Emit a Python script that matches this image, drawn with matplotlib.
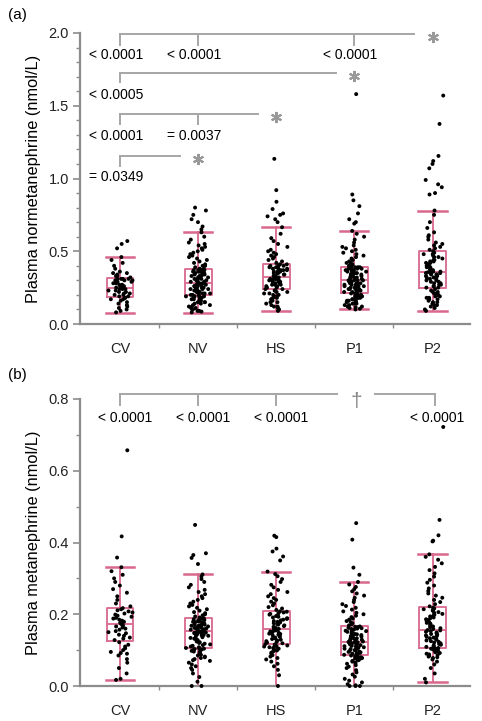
import matplotlib
matplotlib.use("Agg")
import matplotlib.pyplot as plt
import numpy as np

plt.rcParams['font.family'] = ['Liberation Sans', 'DejaVu Sans']

groups = ['CV', 'NV', 'HS', 'P1', 'P2']

# (a) plasma normetanephrine, nmol/L
nmn_cv = [0.08, 0.09, 0.10, 0.11, 0.12, 0.13, 0.14, 0.15, 0.16, 0.17, 0.17, 0.18, 0.18, 0.19, 0.19,
          0.20, 0.20, 0.21, 0.21, 0.22, 0.22, 0.23, 0.23, 0.24, 0.24, 0.24, 0.25, 0.25, 0.25, 0.25,
          0.26, 0.26, 0.27, 0.27, 0.28, 0.28, 0.29, 0.29, 0.30, 0.30, 0.30, 0.31, 0.31, 0.31, 0.31,
          0.32, 0.33, 0.33, 0.34, 0.35, 0.35, 0.36, 0.38, 0.40, 0.42, 0.44, 0.46, 0.52, 0.55, 0.57]
nmn_nv = [0.08, 0.085, 0.09, 0.09, 0.10, 0.10, 0.11, 0.11, 0.12, 0.12, 0.13, 0.13, 0.14, 0.14, 0.15,
          0.15, 0.15, 0.16, 0.16, 0.16, 0.17, 0.17, 0.17, 0.18, 0.18, 0.18, 0.19, 0.19, 0.19, 0.19,
          0.20, 0.20, 0.20, 0.21, 0.21, 0.21, 0.22, 0.22, 0.22, 0.22, 0.23, 0.23, 0.23, 0.24, 0.24,
          0.24, 0.24, 0.25, 0.25, 0.25, 0.25, 0.26, 0.26, 0.26, 0.26, 0.27, 0.27, 0.27, 0.28, 0.28,
          0.28, 0.29, 0.29, 0.29, 0.30, 0.30, 0.30, 0.31, 0.31, 0.31, 0.32, 0.32, 0.32, 0.33, 0.33,
          0.33, 0.34, 0.34, 0.34, 0.35, 0.35, 0.35, 0.36, 0.36, 0.36, 0.37, 0.37, 0.37, 0.37, 0.38,
          0.38, 0.39, 0.40, 0.40, 0.41, 0.42, 0.43, 0.44, 0.45, 0.46, 0.47, 0.48, 0.49, 0.50, 0.51,
          0.52, 0.53, 0.54, 0.55, 0.56, 0.58, 0.60, 0.63, 0.65, 0.67, 0.70, 0.72, 0.75, 0.78, 0.80]
nmn_hs = [0.09, 0.10, 0.11, 0.12, 0.12, 0.13, 0.14, 0.15, 0.15, 0.16, 0.17, 0.17, 0.18, 0.18, 0.19,
          0.19, 0.20, 0.20, 0.21, 0.21, 0.22, 0.22, 0.23, 0.23, 0.24,
          0.24, 0.25, 0.25, 0.26, 0.26, 0.27, 0.27, 0.27, 0.28, 0.28, 0.28, 0.29, 0.29, 0.29, 0.30,
          0.30, 0.30, 0.30, 0.31, 0.31, 0.31, 0.31, 0.32, 0.32, 0.32,
          0.33, 0.33, 0.33, 0.34, 0.34, 0.35, 0.35, 0.35, 0.36, 0.36, 0.36, 0.37, 0.37, 0.37, 0.38,
          0.38, 0.38, 0.39, 0.39, 0.39, 0.40, 0.40, 0.40, 0.41, 0.41,
          0.42, 0.43, 0.44, 0.45, 0.46, 0.47, 0.48, 0.49, 0.50, 0.51, 0.53, 0.55, 0.57, 0.59, 0.62,
          0.665, 0.70, 0.72, 0.74, 0.75, 0.76, 0.79, 0.84, 0.92, 1.135]
nmn_p1 = [0.10, 0.105, 0.11, 0.115, 0.12, 0.12, 0.13, 0.13, 0.14, 0.14, 0.14, 0.15, 0.15, 0.16, 0.16,
          0.16, 0.17, 0.17, 0.17, 0.18, 0.18, 0.18, 0.19, 0.19, 0.19, 0.20, 0.20, 0.20, 0.21, 0.21,
          0.22, 0.22, 0.22, 0.23, 0.23, 0.23, 0.24, 0.24, 0.24, 0.24, 0.25, 0.25, 0.25, 0.26, 0.26,
          0.26, 0.26, 0.27, 0.27, 0.27, 0.28, 0.28, 0.28, 0.28, 0.29, 0.29, 0.29, 0.30, 0.30, 0.30,
          0.30, 0.31, 0.31, 0.31, 0.32, 0.32, 0.32, 0.33, 0.33, 0.33, 0.34, 0.34, 0.34, 0.35, 0.35,
          0.35, 0.35, 0.36, 0.36, 0.36, 0.37, 0.37, 0.37, 0.38, 0.38, 0.38, 0.38, 0.39, 0.39, 0.39,
          0.40, 0.40, 0.41, 0.42, 0.42, 0.43, 0.44, 0.45, 0.46, 0.47, 0.48, 0.49, 0.50, 0.51, 0.52,
          0.53, 0.54, 0.56, 0.58, 0.60, 0.62, 0.64, 0.69, 0.70, 0.72, 0.76, 0.81, 0.85, 0.89, 1.58]
nmn_p2 = [0.09, 0.10, 0.11, 0.12, 0.13, 0.13, 0.14, 0.15, 0.15, 0.16, 0.17, 0.17, 0.18, 0.18, 0.19,
          0.19, 0.20, 0.20, 0.21, 0.21, 0.22, 0.22, 0.23, 0.24, 0.25,
          0.25, 0.26, 0.26, 0.27, 0.27, 0.28, 0.28, 0.29, 0.29, 0.30, 0.30, 0.31, 0.31, 0.32, 0.32,
          0.33, 0.33, 0.33, 0.34, 0.34, 0.34, 0.35, 0.35, 0.35, 0.355,
          0.36, 0.36, 0.37, 0.37, 0.38, 0.38, 0.39, 0.39, 0.40, 0.40, 0.41, 0.42, 0.42, 0.43, 0.43,
          0.44, 0.44, 0.45, 0.46, 0.46, 0.47, 0.48, 0.48, 0.49, 0.50,
          0.51, 0.52, 0.53, 0.54, 0.55, 0.56, 0.58, 0.60, 0.61, 0.63, 0.66, 0.70, 0.75, 0.78, 0.89,
          0.90, 0.94, 0.96, 0.99, 1.07, 1.10, 1.12, 1.155, 1.375, 1.57]

# box summaries
nmn_q1 = [0.185, 0.20, 0.24, 0.215, 0.25]
nmn_med = [0.25, 0.28, 0.32, 0.30, 0.355]
nmn_q3 = [0.314, 0.378, 0.41, 0.39, 0.50]
nmn_lo = [0.078, 0.078, 0.092, 0.10, 0.09]
nmn_hi = [0.46, 0.635, 0.665, 0.642, 0.78]

# (b) plasma metanephrine, nmol/L
mn_cv = [0.017, 0.02, 0.035, 0.05, 0.065, 0.075, 0.085, 0.09, 0.092, 0.095, 0.10, 0.105, 0.11, 0.115, 0.122,
         0.128, 0.132, 0.135, 0.14, 0.143, 0.147, 0.15, 0.153, 0.157, 0.16, 0.163, 0.166, 0.168, 0.171, 0.173,
         0.176, 0.179, 0.182, 0.185, 0.188, 0.19, 0.193, 0.196, 0.199, 0.202, 0.205, 0.208, 0.211, 0.214, 0.217,
         0.222, 0.23, 0.24, 0.25, 0.26, 0.27, 0.28, 0.29, 0.30, 0.31, 0.32, 0.331, 0.358, 0.417, 0.657]
mn_nv = [0.0, 0.0, 0.012, 0.025, 0.035, 0.045, 0.05, 0.055, 0.06, 0.065, 0.07, 0.072, 0.075, 0.078, 0.08,
         0.082, 0.085, 0.087, 0.09, 0.092, 0.094, 0.096, 0.098, 0.10, 0.101, 0.102, 0.103, 0.104, 0.105, 0.106,
         0.108, 0.11, 0.112, 0.114, 0.116, 0.118, 0.12, 0.122, 0.124, 0.126, 0.128, 0.13, 0.132, 0.134, 0.136,
         0.138, 0.14, 0.141, 0.142, 0.143, 0.144, 0.145, 0.146, 0.147, 0.148, 0.149, 0.15, 0.151, 0.152, 0.153,
         0.155, 0.156, 0.157, 0.158, 0.159, 0.16, 0.161, 0.162, 0.163, 0.164, 0.165, 0.166, 0.167, 0.168, 0.169,
         0.17, 0.171, 0.172, 0.174, 0.175, 0.176, 0.178, 0.179, 0.18, 0.181, 0.183, 0.184, 0.186, 0.187, 0.189,
         0.191, 0.194, 0.197, 0.20, 0.203, 0.206, 0.21, 0.214, 0.218, 0.222, 0.226, 0.23, 0.235, 0.24, 0.245,
         0.25, 0.256, 0.262, 0.268, 0.275, 0.282, 0.29, 0.298, 0.305, 0.311, 0.34, 0.357, 0.365, 0.37, 0.449]
mn_hs = [0.0, 0.03, 0.045, 0.055, 0.062, 0.068, 0.074, 0.078, 0.082, 0.086, 0.09, 0.093, 0.096, 0.099, 0.10,
         0.102, 0.104, 0.106, 0.108, 0.11, 0.111, 0.113, 0.114, 0.116, 0.117,
         0.119, 0.121, 0.123, 0.125, 0.127, 0.129, 0.131, 0.133, 0.135, 0.137, 0.139, 0.141, 0.143, 0.145, 0.146,
         0.148, 0.149, 0.151, 0.152, 0.154, 0.155, 0.156, 0.157, 0.158, 0.159,
         0.161, 0.163, 0.165, 0.167, 0.169, 0.171, 0.173, 0.175, 0.177, 0.179, 0.181, 0.183, 0.185, 0.187, 0.189,
         0.191, 0.193, 0.195, 0.197, 0.199, 0.201, 0.203, 0.205, 0.207, 0.208,
         0.212, 0.216, 0.22, 0.225, 0.23, 0.235, 0.24, 0.245, 0.25, 0.256, 0.262, 0.268, 0.275, 0.282, 0.29,
         0.298, 0.306, 0.312, 0.319, 0.35, 0.361, 0.375, 0.383, 0.415, 0.419]
mn_p1 = [0.0, 0.0, 0.0, 0.002, 0.005, 0.01, 0.015, 0.02, 0.026, 0.032, 0.038, 0.044, 0.05, 0.054, 0.058,
         0.062, 0.065, 0.068, 0.07, 0.072, 0.074, 0.076, 0.077, 0.078, 0.079, 0.08, 0.081, 0.082, 0.083, 0.085,
         0.087, 0.088, 0.09, 0.091, 0.092, 0.094, 0.095, 0.096, 0.098, 0.099, 0.10, 0.102, 0.103, 0.104, 0.106,
         0.107, 0.108, 0.11, 0.111, 0.112, 0.114, 0.115, 0.116, 0.117, 0.118, 0.119, 0.12, 0.121, 0.122, 0.123,
         0.124, 0.126, 0.127, 0.129, 0.13, 0.132, 0.133, 0.135, 0.136, 0.138, 0.139, 0.141, 0.142, 0.144, 0.145,
         0.147, 0.148, 0.15, 0.151, 0.153, 0.154, 0.156, 0.157, 0.159, 0.16, 0.161, 0.162, 0.164, 0.165, 0.166,
         0.169, 0.172, 0.175, 0.178, 0.181, 0.185, 0.188, 0.192, 0.196, 0.20, 0.204, 0.208, 0.213, 0.218, 0.223,
         0.228, 0.234, 0.24, 0.246, 0.252, 0.258, 0.264, 0.27, 0.276, 0.283, 0.29, 0.31, 0.33, 0.408, 0.454]
mn_p2 = [0.01, 0.02, 0.035, 0.05, 0.06, 0.068, 0.074, 0.078, 0.08, 0.082, 0.084, 0.086, 0.088, 0.09, 0.092,
         0.094, 0.096, 0.098, 0.10, 0.101, 0.102, 0.103, 0.104, 0.105, 0.106,
         0.109, 0.111, 0.113, 0.115, 0.117, 0.119, 0.121, 0.123, 0.125, 0.127, 0.129, 0.131, 0.133, 0.135, 0.137,
         0.139, 0.141, 0.143, 0.145, 0.147, 0.149, 0.151, 0.153, 0.155, 0.156,
         0.159, 0.161, 0.164, 0.166, 0.169, 0.171, 0.174, 0.176, 0.179, 0.181, 0.184, 0.186, 0.189, 0.191, 0.194,
         0.196, 0.199, 0.201, 0.204, 0.206, 0.209, 0.211, 0.214, 0.216, 0.218,
         0.222, 0.228, 0.234, 0.24, 0.246, 0.252, 0.258, 0.265, 0.272, 0.28, 0.288, 0.296, 0.305, 0.314, 0.323,
         0.332, 0.342, 0.352, 0.36, 0.367, 0.403, 0.405, 0.42, 0.463, 0.722]

mn_q1 = [0.126, 0.107, 0.118, 0.086, 0.107]
mn_med = [0.174, 0.154, 0.16, 0.123, 0.157]
mn_q3 = [0.2175, 0.19, 0.209, 0.167, 0.219]
mn_lo = [0.017, 0.0, 0.0, 0.0, 0.01]
mn_hi = [0.331, 0.311, 0.319, 0.29, 0.367]

# p-value annotations
a_brackets = [  # (y, tick bottom, groups with ticks, target group)
    (1.99, 1.92, [0, 1, 3], 4),
    (1.727, 1.66, [0], 3),
    (1.445, 1.375, [0, 1], 2),
    (1.156, 1.088, [0], 1),
]
a_labels = [(0, 1.85, '< 0.0001'), (1, 1.85, '< 0.0001'), (3, 1.85, '< 0.0001'),
            (0, 1.575, '< 0.0005'),
            (0, 1.29, '< 0.0001'), (1, 1.29, '= 0.0037'),
            (0, 1.01, '= 0.0349')]
b_ticks = [0, 1, 2, 4]
b_labels = ['< 0.0001', '< 0.0001', '< 0.0001', '< 0.0001']

PINK = '#d9688c'
GREY = '#8c8c8c'
BRK = '#a6a6a6'
STAR = '#999999'


def hashfrac(k, seed):
    # deterministic scramble of the index, used only for horizontal spread
    v = np.sin(k * 12.9898 + seed * 78.233) * 43758.5453
    return v - np.floor(v)


def strip(ax, data, q1, med, q3, lo, hi):
    stats = []
    for i in range(len(groups)):
        stats.append(dict(med=med[i], q1=q1[i], q3=q3[i], whislo=lo[i], whishi=hi[i], fliers=[]))
    line = dict(color=PINK, linewidth=1.3)
    ax.bxp(stats, positions=range(len(groups)), widths=0.34, capwidths=0.36, showfliers=False,
           boxprops=line, whiskerprops=line, capprops=dict(color=PINK, linewidth=1.8),
           medianprops=line, manage_ticks=False, zorder=2)
    for i, vals in enumerate(data):
        k = np.arange(len(vals)) + 1.0
        u = hashfrac(k, i + 1) + hashfrac(k, i + 11) + hashfrac(k, i + 23)
        off = 0.19 * (u - 1.5) / 1.5
        ax.scatter(i + off, vals, s=8, color='black', edgecolors='none', zorder=3, clip_on=False)


def style(ax, top, major, minor):
    ax.set_xlim(-0.515, 4.48)
    ax.set_ylim(0, top)
    ax.spines['top'].set_visible(False)
    ax.spines['right'].set_visible(False)
    for s in ['left', 'bottom']:
        ax.spines[s].set_color(GREY)
        ax.spines[s].set_linewidth(1.6)
    ax.set_yticks(np.arange(0, top + 1e-9, major))
    ax.set_yticks(np.arange(0, top + 1e-9, minor), minor=True)
    ax.yaxis.set_major_formatter(matplotlib.ticker.FormatStrFormatter('%.1f'))
    ax.tick_params(axis='y', which='major', length=5, width=1.2, color=GREY, labelsize=10.5,
                   labelcolor='#222222', pad=3)
    ax.tick_params(axis='y', which='minor', length=3, width=1.0, color=GREY)
    ax.set_xticks(range(len(groups)))
    ax.set_xticklabels(groups)
    ax.set_xticks([0.5, 1.5, 2.5, 3.5], minor=True)
    ax.tick_params(axis='x', which='major', length=0, labelsize=10.5, labelcolor='#222222', pad=13)
    ax.tick_params(axis='x', which='minor', length=3, width=1.0, color=GREY)


fig = plt.figure(figsize=(4.82, 7.21), dpi=100)
ax1 = fig.add_axes([80 / 482, 397 / 721, 390 / 482, 291 / 721])
ax2 = fig.add_axes([80 / 482, 35 / 721, 390 / 482, 287 / 721])

strip(ax1, [nmn_cv, nmn_nv, nmn_hs, nmn_p1, nmn_p2], nmn_q1, nmn_med, nmn_q3, nmn_lo, nmn_hi)
style(ax1, 2.0, 0.5, 0.1)
ax1.set_ylabel('Plasma normetanephrine (nmol/L)', fontsize=11.8, labelpad=5)

strip(ax2, [mn_cv, mn_nv, mn_hs, mn_p1, mn_p2], mn_q1, mn_med, mn_q3, mn_lo, mn_hi)
style(ax2, 0.8, 0.2, 0.1)
ax2.set_ylabel('Plasma metanephrine (nmol/L)', fontsize=11.8, labelpad=5)

# brackets panel (a)
for y, yb, ticks, target in a_brackets:
    ax1.plot([0, target - 0.24], [y, y], color=BRK, lw=1.4, clip_on=False, zorder=4)
    for t in ticks:
        ax1.plot([t, t], [y, yb], color=BRK, lw=1.4, clip_on=False, zorder=4)
    ax1.plot(target, y - 0.02, marker=(6, 2, 0), ms=8, mew=1.5, color=STAR, clip_on=False, zorder=4)
for gx, y, txt in a_labels:
    ax1.text(gx - 0.05, y, txt, ha='center', va='center', fontsize=10, color='black')

# brackets panel (b)
yb = 0.814
ax2.plot([0, 2.78], [yb, yb], color=BRK, lw=1.4, clip_on=False)
ax2.plot([3.26, 4.03], [yb, yb], color=BRK, lw=1.4, clip_on=False)
for t in b_ticks:
    tx = 4.03 if t == 4 else t
    ax2.plot([tx, tx], [yb, 0.783], color=BRK, lw=1.4, clip_on=False)
ax2.text(3.02, 0.792, '\u2020', ha='center', va='center', fontsize=15, color='#888888')
for t, txt in zip(b_ticks, b_labels):
    ax2.text(t + 0.06, 0.747, txt, ha='center', va='center', fontsize=10, color='black')

fig.text(8 / 482, 1 - 15 / 721, '(a)', fontsize=11, va='center', ha='left')
fig.text(8 / 482, 1 - 375 / 721, '(b)', fontsize=11, va='center', ha='left')

fig.savefig('out.png', dpi=100)
